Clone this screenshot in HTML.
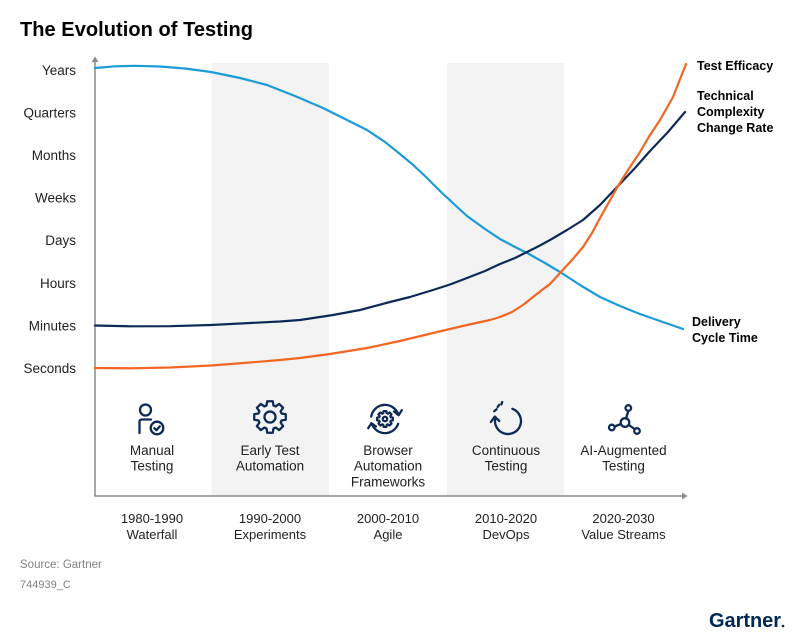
<!DOCTYPE html>
<html>
<head>
<meta charset="utf-8">
<style>
html,body{margin:0;padding:0;background:#fff;}
svg{display:block;}
text{font-family:"Liberation Sans",Arial,sans-serif;}
</style>
</head>
<body>
<svg width="800" height="637" viewBox="0 0 800 637" xmlns="http://www.w3.org/2000/svg">
  <rect width="800" height="637" fill="#fff"/>
  <!-- Title -->
  <text x="20" y="36" font-size="20" font-weight="bold" fill="#000" textLength="233">The Evolution of Testing</text>

  <!-- shaded bands -->
  <rect x="211.5" y="63" width="117.5" height="433" fill="#f3f3f3"/>
  <rect x="446.8" y="63" width="117.2" height="433" fill="#f3f3f3"/>

  <!-- axes -->
  <line x1="95" y1="60" x2="95" y2="496" stroke="#8a8a8a" stroke-width="1.5"/>
  <polygon points="91.5,62 95,56.5 98.5,62" fill="#8a8a8a"/>
  <line x1="94.3" y1="496" x2="683" y2="496" stroke="#8a8a8a" stroke-width="1.5"/>
  <polygon points="682,492.5 687.5,496 682,499.5" fill="#8a8a8a"/>

  <!-- Y labels -->
  <g font-size="13.5" fill="#222" text-anchor="end">
    <text x="76" y="75">Years</text>
    <text x="76" y="117.5">Quarters</text>
    <text x="76" y="160">Months</text>
    <text x="76" y="202.5">Weeks</text>
    <text x="76" y="245">Days</text>
    <text x="76" y="288">Hours</text>
    <text x="76" y="330.5">Minutes</text>
    <text x="76" y="373">Seconds</text>
  </g>

  <!-- curves -->
  <polyline fill="none" stroke="#1c9bd8" stroke-width="2.2" stroke-linejoin="round" stroke-linecap="round"
    points="95,68 115,66.3 135,65.8 160,66.5 185,68.5 211,72 240,78 267,85 295,96 323,108 345,119 367,130 385,142 400,154 412,164 425,176 440,191 455,205 467,216 485,229 500,239 515,247 527,253 545,263 560,272 580,285 600,297 620,306 640,314 660,321 683,329"/>
  <polyline fill="none" stroke="#0d2a57" stroke-width="2.2" stroke-linejoin="round" stroke-linecap="round"
    points="95,325.5 130,326.3 170,326.2 211,325 250,323 280,321.5 300,320 333,315 360,310 390,302 410,297 433,290 450,284.5 467,278 485,271 500,264 515,258 527,252 540,245.5 550,240 567,230 583,220 600,205 618,186 635,168 650,151 668,132 685,112"/>
  <polyline fill="none" stroke="#f26522" stroke-width="2.2" stroke-linejoin="round" stroke-linecap="round"
    points="95,368 130,368.3 170,367.5 211,365.5 250,362.5 280,360 300,358 330,354 367,348 400,341 433,333 467,325 490,320 500,317 512,312 523,305 533,297 542,290 550,284 560,273 572,260 583,247 592,233 600,218 609,202 618,186 628,170 640,152 650,135 660,120 673,97 686,64"/>

  <!-- right series labels -->
  <g font-size="12.5" font-weight="bold" fill="#000">
    <text x="697" y="70">Test Efficacy</text>
    <text x="697" y="100">Technical</text>
    <text x="697" y="116">Complexity</text>
    <text x="697" y="132">Change Rate</text>
    <text x="692" y="326">Delivery</text>
    <text x="692" y="342">Cycle Time</text>
  </g>

  <!-- Icons -->
  <g fill="none" stroke="#0d2a57" stroke-width="2.3" stroke-linecap="round" stroke-linejoin="round">
    <!-- icon 1: person with check -->
    <circle cx="145.5" cy="410" r="5.5"/>
    <path d="M139.5,433 V422 Q139.5,419.5 142,419.5 H151"/>
    <circle cx="157" cy="428" r="6.3"/>
    <path d="M154.3,428.2 L156.4,430.2 L159.8,426.4"/>

    <!-- icon 2: gear -->
    <g transform="translate(270,417)">
      <polygon points="15.76,-2.78 15.76,2.78 11.47,3.51 10.6,5.63 13.11,9.18 9.18,13.11 5.63,10.6 3.51,11.47 2.78,15.76 -2.78,15.76 -3.51,11.47 -5.63,10.6 -9.18,13.11 -13.11,9.18 -10.6,5.63 -11.47,3.51 -15.76,2.78 -15.76,-2.78 -11.47,-3.51 -10.6,-5.63 -13.11,-9.18 -9.18,-13.11 -5.63,-10.6 -3.51,-11.47 -2.78,-15.76 2.78,-15.76 3.51,-11.47 5.63,-10.6 9.18,-13.11 13.11,-9.18 10.6,-5.63 11.47,-3.51"/>
      <circle cx="0" cy="0" r="5.5"/>
    </g>

    <!-- icon 3: gear with circular arrows -->
    <path d="M371.2,416.6 A14,14 0 0 1 398.2,414.2"/>
    <path d="M394,411.5 L398.6,415.2 L401.8,410.2"/>
    <path d="M398.2,423.8 A14,14 0 0 1 371.8,423.8"/>
    <path d="M376,426.5 L371.4,423.2 L368.2,428.2"/>
    <g transform="translate(385,419) scale(0.5)" stroke-width="4.5">
      <polygon points="15.76,-2.78 15.76,2.78 11.47,3.51 10.6,5.63 13.11,9.18 9.18,13.11 5.63,10.6 3.51,11.47 2.78,15.76 -2.78,15.76 -3.51,11.47 -5.63,10.6 -9.18,13.11 -13.11,9.18 -10.6,5.63 -11.47,3.51 -15.76,2.78 -15.76,-2.78 -11.47,-3.51 -10.6,-5.63 -13.11,-9.18 -9.18,-13.11 -5.63,-10.6 -3.51,-11.47 -2.78,-15.76 2.78,-15.76 3.51,-11.47 5.63,-10.6 9.18,-13.11 13.11,-9.18 10.6,-5.63 11.47,-3.51"/>
      <circle cx="0" cy="0" r="4.5"/>
    </g>

    <!-- icon 4: continuous -->
    <path d="M512.4,408.8 A13,13 0 1 1 495.2,418.7"/>
    <path d="M490.8,422 L494.8,416.6 L499.2,421"/>
    <line x1="494.2" y1="411.2" x2="496.6" y2="409.2"/>
    <line x1="497.6" y1="407" x2="499.2" y2="404.8"/>
    <line x1="501.4" y1="404.4" x2="502.2" y2="402"/>

    <!-- icon 5: network -->
    <line x1="628.3" y1="411" x2="626" y2="418.5"/>
    <line x1="614.5" y1="426.5" x2="621" y2="424"/>
    <line x1="629" y1="425" x2="634.5" y2="429"/>
    <circle cx="628.3" cy="408" r="2.8"/>
    <circle cx="625" cy="422.5" r="4.3"/>
    <circle cx="611.8" cy="427.5" r="2.8"/>
    <circle cx="637" cy="431" r="2.8"/>
  </g>

  <!-- icon labels -->
  <g font-size="13.5" fill="#222" text-anchor="middle">
    <text x="152" y="455">Manual</text>
    <text x="152" y="470.5">Testing</text>
    <text x="270" y="455">Early Test</text>
    <text x="270" y="470.5">Automation</text>
    <text x="388" y="455">Browser</text>
    <text x="388" y="470.5">Automation</text>
    <text x="388" y="486.5">Frameworks</text>
    <text x="506" y="455">Continuous</text>
    <text x="506" y="470.5">Testing</text>
    <text x="623.5" y="455">AI-Augmented</text>
    <text x="623.5" y="470.5">Testing</text>
  </g>

  <!-- bottom labels -->
  <g font-size="13" fill="#222" text-anchor="middle">
    <text x="152" y="523">1980-1990</text>
    <text x="152" y="539">Waterfall</text>
    <text x="270" y="523">1990-2000</text>
    <text x="270" y="539">Experiments</text>
    <text x="388" y="523">2000-2010</text>
    <text x="388" y="539">Agile</text>
    <text x="506" y="523">2010-2020</text>
    <text x="506" y="539">DevOps</text>
    <text x="623.5" y="523">2020-2030</text>
    <text x="623.5" y="539">Value Streams</text>
  </g>

  <!-- source -->
  <text x="20" y="568" font-size="11.5" fill="#808080">Source: Gartner</text>
  <text x="20" y="588" font-size="11" fill="#808080">744939_C</text>

  <!-- logo -->
  <text x="709" y="627" font-size="20" font-weight="bold" fill="#002856" textLength="72">Gartner</text>
  <circle cx="783" cy="626" r="1.3" fill="#002856"/>
</svg>
</body>
</html>
